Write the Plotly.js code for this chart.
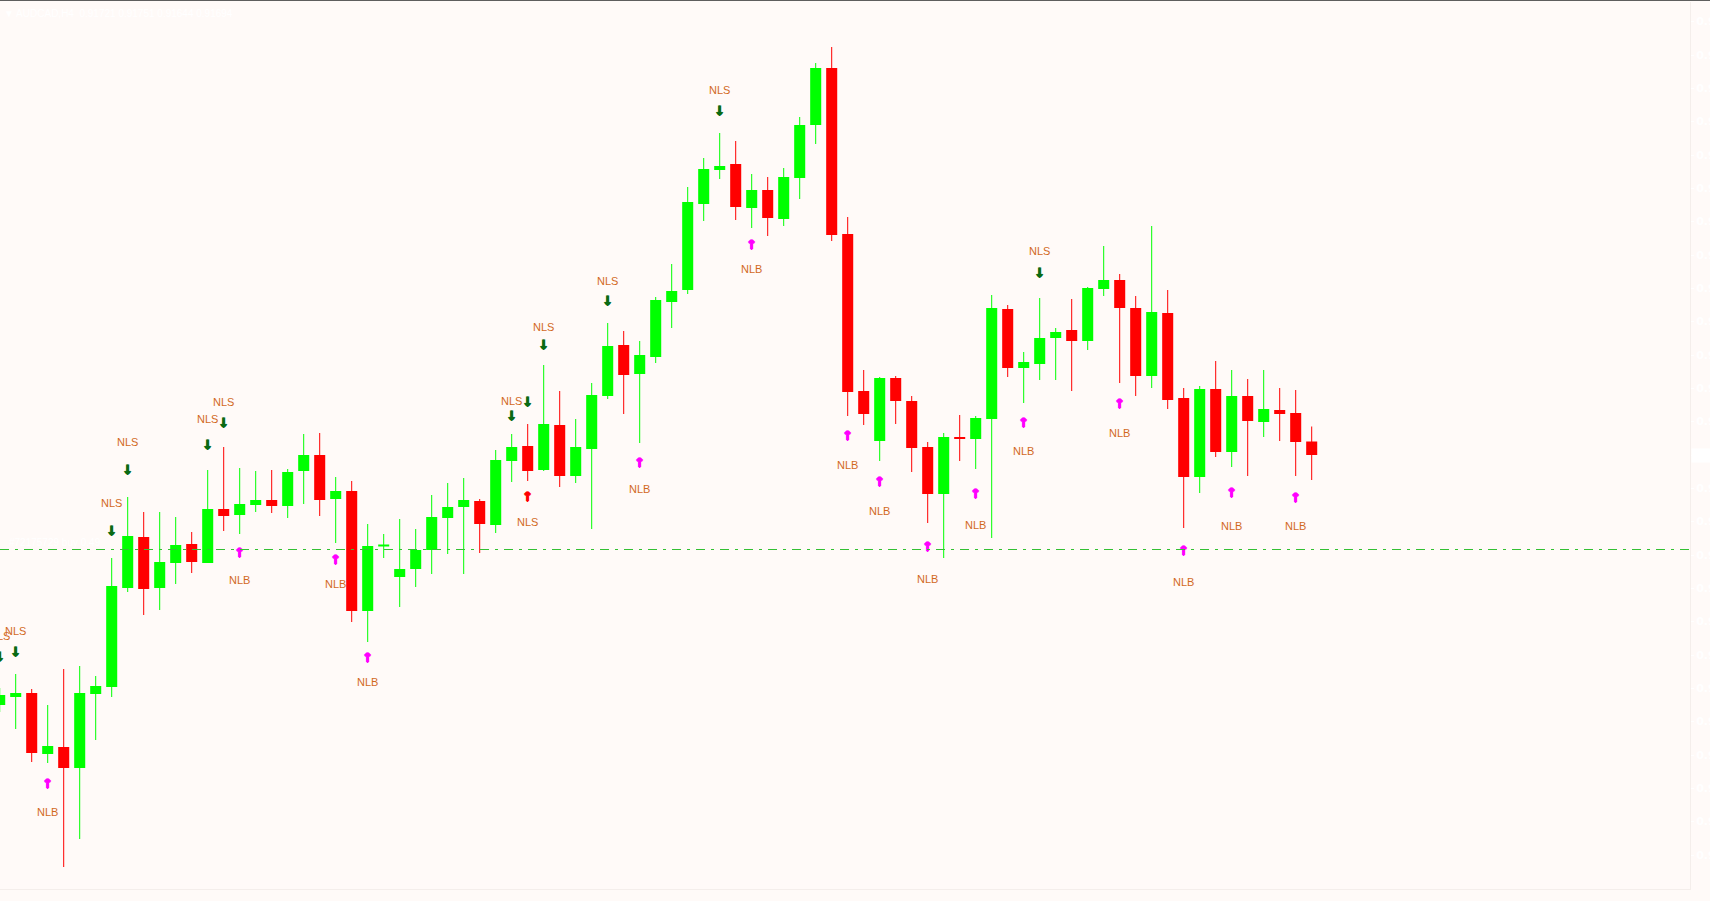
<!DOCTYPE html>
<html>
<head>
<meta charset="utf-8">
<script src="https://cdn.plot.ly/plotly-3.0.1.min.js"></script>
<style>
  html, body { margin: 0; padding: 0; background: #fffaf8; overflow: hidden; }
  #chart { width: 1710px; height: 900px; border-top: 1px solid #5e5e5e; }
</style>
</head>
<body>
<div id="chart"></div>
<script>
// ---- data: AUDCAD H4 candles (index = bar number) ----
const opens = [
  0.91194, 0.91210, 0.91218, 0.91096, 0.91110, 0.91068, 0.91216, 0.91230, 0.91428, 0.91530,
  0.91428, 0.91478, 0.91516, 0.91478, 0.91586, 0.91574, 0.91594, 0.91604, 0.91592, 0.91662,
  0.91694, 0.91606, 0.91622, 0.91382, 0.91511, 0.91450, 0.91466, 0.91504, 0.91568, 0.91590,
  0.91602, 0.91554, 0.91682, 0.91712, 0.91664, 0.91754, 0.91652, 0.91706, 0.91812, 0.91914,
  0.91856, 0.91890, 0.92000, 0.92024, 0.92196, 0.92264, 0.92276, 0.92188, 0.92224, 0.92166,
  0.92248, 0.92354, 0.92468, 0.92136, 0.91822, 0.91722, 0.91848, 0.91802, 0.91710, 0.91616,
  0.91730, 0.91726, 0.91766, 0.91986, 0.91868, 0.91876, 0.91928, 0.91944, 0.91922, 0.92026,
  0.92044, 0.91988, 0.91852, 0.91978, 0.91808, 0.91650, 0.91826, 0.91700, 0.91812, 0.91760,
  0.91784, 0.91778, 0.91721
];
const highs = [
  0.91228, 0.91256, 0.91226, 0.91194, 0.91266, 0.91272, 0.91252, 0.91488, 0.91610, 0.91580,
  0.91580, 0.91570, 0.91540, 0.91664, 0.91710, 0.91668, 0.91662, 0.91664, 0.91666, 0.91736,
  0.91738, 0.91650, 0.91642, 0.91556, 0.91536, 0.91566, 0.91546, 0.91614, 0.91638, 0.91648,
  0.91606, 0.91704, 0.91736, 0.91756, 0.91874, 0.91822, 0.91766, 0.91838, 0.91958, 0.91942,
  0.91922, 0.92010, 0.92076, 0.92230, 0.92288, 0.92338, 0.92322, 0.92256, 0.92250, 0.92268,
  0.92370, 0.92478, 0.92510, 0.92170, 0.91864, 0.91850, 0.91852, 0.91812, 0.91720, 0.91738,
  0.91774, 0.91772, 0.92014, 0.91994, 0.91900, 0.92008, 0.91948, 0.92006, 0.92030, 0.92112,
  0.92056, 0.92012, 0.92152, 0.92024, 0.91828, 0.91832, 0.91882, 0.91864, 0.91846, 0.91864,
  0.91828, 0.91824, 0.91751
];
const lows = [
  0.91180, 0.91146, 0.91080, 0.91078, 0.90870, 0.90926, 0.91124, 0.91210, 0.91420, 0.91374,
  0.91384, 0.91436, 0.91458, 0.91478, 0.91542, 0.91536, 0.91580, 0.91578, 0.91568, 0.91596,
  0.91572, 0.91518, 0.91360, 0.91320, 0.91488, 0.91390, 0.91430, 0.91456, 0.91496, 0.91456,
  0.91498, 0.91538, 0.91640, 0.91642, 0.91662, 0.91630, 0.91638, 0.91546, 0.91806, 0.91776,
  0.91718, 0.91878, 0.91948, 0.92016, 0.92162, 0.92246, 0.92164, 0.92148, 0.92132, 0.92152,
  0.92206, 0.92316, 0.92122, 0.91772, 0.91754, 0.91682, 0.91756, 0.91660, 0.91558, 0.91488,
  0.91682, 0.91666, 0.91528, 0.91850, 0.91798, 0.91844, 0.91844, 0.91822, 0.91904, 0.92012,
  0.91838, 0.91812, 0.91828, 0.91786, 0.91548, 0.91618, 0.91690, 0.91670, 0.91652, 0.91730,
  0.91722, 0.91652, 0.91644
];
const closes = [
  0.91214, 0.91218, 0.91098, 0.91112, 0.91068, 0.91218, 0.91232, 0.91432, 0.91532, 0.91426,
  0.91480, 0.91514, 0.91480, 0.91586, 0.91572, 0.91596, 0.91604, 0.91592, 0.91660, 0.91694,
  0.91604, 0.91622, 0.91382, 0.91512, 0.91515, 0.91466, 0.91504, 0.91570, 0.91590, 0.91604,
  0.91556, 0.91684, 0.91710, 0.91662, 0.91756, 0.91652, 0.91710, 0.91814, 0.91912, 0.91854,
  0.91894, 0.92004, 0.92022, 0.92200, 0.92266, 0.92272, 0.92190, 0.92224, 0.92168, 0.92250,
  0.92354, 0.92468, 0.92134, 0.91820, 0.91776, 0.91848, 0.91802, 0.91708, 0.91616, 0.91730,
  0.91726, 0.91768, 0.91988, 0.91868, 0.91880, 0.91928, 0.91940, 0.91922, 0.92028, 0.92044,
  0.91988, 0.91852, 0.91980, 0.91804, 0.91650, 0.91826, 0.91700, 0.91812, 0.91762, 0.91786,
  0.91776, 0.91720, 0.91694
];

// ---- signals ----
const nlsTextBars = [0, 1, 7, 8, 13, 14, 32, 34, 38, 45, 65];
const nlsTextPrices = [0.91330, 0.91340, 0.91596, 0.91718, 0.91764, 0.91798, 0.91800, 0.91948, 0.92040, 0.92422, 0.92100];
const nlsArrowBars = [0, 1, 7, 8, 13, 14, 32, 33, 34, 38, 45, 65];
const nlsArrowPrices = [0.91288, 0.91298, 0.91540, 0.91662, 0.91712, 0.91756, 0.91770, 0.91798, 0.91912, 0.92000, 0.92380, 0.92056];
const redSignalBars = [33];
const redArrowPrices = [0.91608];
const redTextPrices = [0.91558];
const nlbBars = [3, 15, 21, 23, 40, 47, 53, 55, 58, 61, 64, 70, 74, 77, 81];
const nlbArrowPrices = [0.91034, 0.91496, 0.91482, 0.91286, 0.91676, 0.92112, 0.91730, 0.91638, 0.91508, 0.91614, 0.91756, 0.91794, 0.91500, 0.91616, 0.91606];
const nlbTextPrices = [0.90978, 0.91442, 0.91434, 0.91238, 0.91624, 0.92064, 0.91672, 0.91580, 0.91444, 0.91552, 0.91700, 0.91736, 0.91438, 0.91550, 0.91550];

const orderPrice = 0.91505;
const orderLabel = "#72175729 buy 0.49";
const headerText = "\u25BC AUDCAD,H4  0.91721 0.91751 0.91644 0.91694";
const priceTicks = [0.92561, 0.92494, 0.92427, 0.92361, 0.92294, 0.92227, 0.92161, 0.92094, 0.92027,
  0.91961, 0.91894, 0.91827, 0.91761, 0.91694, 0.91627, 0.91561, 0.91494, 0.91427, 0.91361,
  0.91294, 0.91227, 0.91161, 0.91094, 0.91027, 0.90961, 0.90894];

// ---- build traces ----
const UP = '#00ff00', DN = '#ff0000';
function bodies(up) {
  const x = [], base = [], h = [];
  for (let i = 0; i < opens.length; i++) {
    const isUp = closes[i] >= opens[i];
    if (isUp !== up) continue;
    x.push(i);
    base.push(Math.min(opens[i], closes[i]));
    h.push(Math.abs(closes[i] - opens[i]));
  }
  return { type: 'bar', x: x, y: h, base: base, width: 0.69,
    marker: { color: up ? UP : DN, line: { width: 0 } }, hoverinfo: 'skip', showlegend: false };
}
function wicks(up) {
  const x = [], y = [];
  for (let i = 0; i < opens.length; i++) {
    const isUp = closes[i] >= opens[i];
    if (isUp !== up) continue;
    x.push(i, i, null);
    y.push(lows[i], highs[i], null);
  }
  return { type: 'scatter', mode: 'lines', x: x, y: y,
    line: { color: up ? UP : DN, width: 1 }, hoverinfo: 'skip', showlegend: false };
}
function labels(xs, ys, txt, color, size, family, weight, shadow) {
  const f = { color: color, size: size, family: family, weight: weight || 'normal' };
  if (shadow) f.shadow = shadow;
  return { type: 'scatter', mode: 'text', x: xs, y: ys, text: xs.map(() => txt),
    textposition: 'middle center', cliponaxis: true, textfont: f,
    hoverinfo: 'skip', showlegend: false };
}
function thick(c) {
  return '0.8px 0 0 ' + c + ', -0.8px 0 0 ' + c + ', 0 0.6px 0 ' + c;
}
const TXT = '#d2691e';
const DKG = '#0a6a14', MAG = '#ff00ff';
const traces = [
  wicks(true), wicks(false), bodies(true), bodies(false),
  labels(nlsTextBars, nlsTextPrices, 'NLS', TXT, 11, 'Liberation Sans, Arial'),
  labels(nlsArrowBars, nlsArrowPrices, '\u2193', DKG, 13, 'DejaVu Sans', 'bold', thick(DKG)),
  labels(redSignalBars, redArrowPrices, '\u2191', DN, 13, 'DejaVu Sans', 'bold', thick(DN)),
  labels(redSignalBars, redTextPrices, 'NLS', TXT, 11, 'Liberation Sans, Arial'),
  labels(nlbBars, nlbArrowPrices, '\u2191', MAG, 13, 'DejaVu Sans', 'bold', thick(MAG)),
  labels(nlbBars, nlbTextPrices, 'NLB', TXT, 11, 'Liberation Sans, Arial')
];

const layout = {
  width: 1710, height: 900,
  margin: { l: 0, r: 20, t: 1, b: 12, pad: 0 },
  paper_bgcolor: '#fffaf8', plot_bgcolor: '#fffaf8',
  barmode: 'overlay',
  showlegend: false,
  xaxis: { range: [0.01875, 105.64375], showgrid: false, zeroline: false, showticklabels: false,
    ticks: '', showline: true, linecolor: '#f4eeeb', fixedrange: true },
  yaxis: { side: 'right', range: [0.90826, 0.92600], showgrid: false, zeroline: false,
    tickvals: priceTicks, ticktext: priceTicks.map(v => v.toFixed(5)),
    tickfont: { color: '#ffffff', size: 11, family: 'DejaVu Sans', weight: 'bold' },
    ticks: 'outside', ticklen: 3, tickcolor: '#ffffff',
    showline: true, linecolor: '#f4eeeb', fixedrange: true },
  shapes: [{
    type: 'line', xref: 'paper', x0: 0, x1: 1, yref: 'y', y0: orderPrice, y1: orderPrice,
    line: { color: '#33c033', width: 1, dash: '9px,6px,3px,6px' }
  }],
  annotations: [
    { xref: 'paper', yref: 'paper', x: 0.001, y: 1, xanchor: 'left', yanchor: 'top', yshift: -4,
      text: headerText, showarrow: false, font: { color: '#ffffff', size: 10, family: 'Liberation Sans, Arial' } },
    { xref: 'paper', yref: 'y', x: 0.004, y: orderPrice, xanchor: 'left', yanchor: 'bottom', yshift: 0,
      text: orderLabel, showarrow: false, font: { color: '#ffffff', size: 10, family: 'Liberation Sans, Arial' } },
    { xref: 'paper', yref: 'y', x: 1, y: closes[closes.length - 1], xanchor: 'left', yanchor: 'middle', xshift: 1,
      text: closes[closes.length - 1].toFixed(5), showarrow: false, bgcolor: '#ffffff',
      font: { color: '#ffffff', size: 10, family: 'DejaVu Sans' } }
  ]
};

Plotly.newPlot('chart', traces, layout, { displayModeBar: false, staticPlot: true });
</script>
</body>
</html>
